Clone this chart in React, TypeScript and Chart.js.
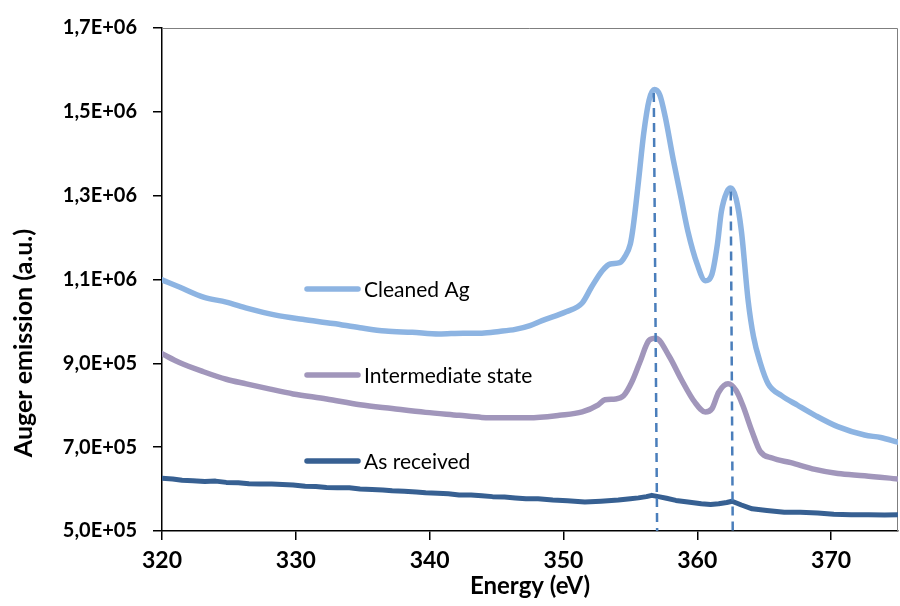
import React, { useEffect, useRef } from "react";
import { Chart, registerables } from "chart.js";

Chart.register(...registerables);

// ---- Data (energy in eV, intensity in a.u.) ----
const cleanedE = [320.0, 321.3, 323.1, 324.8, 326.4, 328.5, 330.5, 332.8, 334.8, 336.7, 338.7, 340.7, 342.5, 343.9, 345.2, 346.4, 347.5, 348.4, 350.2, 351.4, 352.1, 352.9, 353.5, 354.2, 354.6, 355.0, 355.2, 355.6, 356.0, 356.4, 356.8, 357.2, 357.6, 358.2, 358.8, 359.3, 360.0, 360.6, 361.1, 361.5, 361.8, 362.2, 362.5, 362.9, 363.3, 363.8, 364.2, 364.7, 365.3, 366.3, 367.5, 368.8, 370.5, 372.5, 373.7, 375.0];
const cleanedV = [1.099e6, 1.082e6, 1.058e6, 1.046e6, 1.031e6, 1.015e6, 1.005e6, 0.995e6, 0.985e6, 0.977e6, 0.974e6, 0.970e6, 0.972e6, 0.972e6, 0.976e6, 0.981e6, 0.990e6, 1.002e6, 1.023e6, 1.044e6, 1.082e6, 1.121e6, 1.137e6, 1.140e6, 1.155e6, 1.185e6, 1.223e6, 1.332e6, 1.449e6, 1.528e6, 1.553e6, 1.540e6, 1.489e6, 1.387e6, 1.293e6, 1.215e6, 1.136e6, 1.097e6, 1.113e6, 1.183e6, 1.262e6, 1.308e6, 1.318e6, 1.293e6, 1.215e6, 1.050e6, 0.964e6, 0.902e6, 0.851e6, 0.823e6, 0.800e6, 0.776e6, 0.749e6, 0.729e6, 0.723e6, 0.712e6];

const interE = [320.0, 321.3, 323.1, 324.8, 326.3, 328.0, 329.8, 332.3, 334.8, 337.2, 339.7, 342.2, 343.9, 345.5, 347.4, 349.7, 351.4, 352.6, 353.1, 353.9, 354.5, 355.1, 355.7, 356.4, 356.9, 357.9, 358.8, 359.8, 360.6, 361.1, 361.6, 362.3, 362.9, 363.4, 364.1, 364.7, 365.6, 367.0, 368.8, 370.5, 372.5, 375.0];
const interV = [0.923e6, 0.902e6, 0.880e6, 0.862e6, 0.851e6, 0.839e6, 0.827e6, 0.815e6, 0.801e6, 0.792e6, 0.783e6, 0.776e6, 0.771e6, 0.770e6, 0.770e6, 0.776e6, 0.784e6, 0.801e6, 0.813e6, 0.815e6, 0.823e6, 0.855e6, 0.902e6, 0.955e6, 0.960e6, 0.917e6, 0.862e6, 0.808e6, 0.784e6, 0.792e6, 0.831e6, 0.851e6, 0.835e6, 0.800e6, 0.737e6, 0.690e6, 0.674e6, 0.663e6, 0.647e6, 0.637e6, 0.632e6, 0.624e6];

const receivedE = [320.0, 320.8, 321.5, 322.3, 323.2, 324.0, 324.8, 325.7, 326.5, 327.3, 328.2, 329.0, 329.8, 330.7, 331.5, 332.3, 333.1, 334.0, 334.8, 335.7, 336.5, 337.2, 338.1, 339.0, 339.7, 340.6, 341.4, 342.2, 343.1, 343.9, 344.7, 345.6, 346.4, 347.2, 348.1, 349.2, 350.3, 351.6, 352.8, 354.1, 355.0, 355.6, 356.2, 356.6, 357.1, 357.7, 358.4, 359.3, 360.3, 361.0, 361.6, 362.2, 362.6, 363.3, 364.1, 365.2, 366.5, 367.7, 369.0, 370.2, 371.5, 372.8, 374.0, 375.0];
const receivedV = [0.626e6, 0.624e6, 0.621e6, 0.620e6, 0.618e6, 0.619e6, 0.616e6, 0.615e6, 0.613e6, 0.612e6, 0.612e6, 0.611e6, 0.610e6, 0.607e6, 0.606e6, 0.604e6, 0.603e6, 0.603e6, 0.600e6, 0.599e6, 0.598e6, 0.596e6, 0.595e6, 0.593e6, 0.591e6, 0.590e6, 0.589e6, 0.586e6, 0.586e6, 0.584e6, 0.582e6, 0.581e6, 0.579e6, 0.577e6, 0.577e6, 0.574e6, 0.572e6, 0.569e6, 0.571e6, 0.574e6, 0.577e6, 0.579e6, 0.582e6, 0.585e6, 0.582e6, 0.578e6, 0.573e6, 0.569e6, 0.565e6, 0.563e6, 0.565e6, 0.568e6, 0.571e6, 0.562e6, 0.553e6, 0.549e6, 0.545e6, 0.545e6, 0.543e6, 0.540e6, 0.539e6, 0.539e6, 0.538e6, 0.539e6];

// Dashed peak markers: [top energy, bottom energy], [top value, bottom value]
const peak1E = [356.75, 357.0];
const peak1V = [1.545e6, 5.0e5];
const peak2E = [362.5, 362.65];
const peak2V = [1.31e6, 5.0e5];

const seriesNames = ["Cleaned Ag", "Intermediate state", "As received"];
const seriesColors = ["#8DB4E2", "#A196BB", "#376092"];
const dashColor = "#4A7EBB";

const xTicks = [320, 330, 340, 350, 360, 370];
const yTicks = [5e5, 7e5, 9e5, 1.1e6, 1.3e6, 1.5e6, 1.7e6];
const xMin = 320;
const xMax = 375;
const yMin = 5e5;
const yMax = 1.7e6;
const xTitle = "Energy (eV)";
const yTitle = "Auger emission (a.u.)";

const FONT = "Lato, 'Open Sans', sans-serif";

function fmtSci(v: number): string {
  const e = Math.floor(Math.log10(v) + 1e-9);
  const m = v / Math.pow(10, e);
  return m.toFixed(1).replace(".", ",") + "E+" + String(e).padStart(2, "0");
}

function pts(xs: number[], ys: number[]) {
  return xs.map((x, i) => ({ x, y: ys[i] }));
}

const decorPlugin = {
  id: "decor",
  beforeDatasetsDraw(chart: any) {
    const { ctx, chartArea } = chart;
    ctx.save();
    ctx.strokeStyle = "#7f7f7f";
    ctx.lineWidth = 1;
    ctx.beginPath();
    ctx.moveTo(chartArea.left, chartArea.top + 0.5);
    ctx.lineTo(chartArea.right - 0.5, chartArea.top + 0.5);
    ctx.lineTo(chartArea.right - 0.5, chartArea.bottom);
    ctx.stroke();
    ctx.restore();
  },
  afterDraw(chart: any) {
    const { ctx, chartArea } = chart;
    ctx.save();
    // legend
    const legendX = 305;
    const legendYs = [289, 375, 461];
    seriesNames.forEach((name, i) => {
      ctx.strokeStyle = seriesColors[i];
      ctx.lineWidth = 5.5;
      ctx.lineCap = "round";
      ctx.beginPath();
      ctx.moveTo(legendX + 2, legendYs[i]);
      ctx.lineTo(legendX + 53, legendYs[i]);
      ctx.stroke();
      ctx.fillStyle = "#000";
      ctx.font = `21px ${FONT}`;
      ctx.textAlign = "left";
      ctx.textBaseline = "middle";
      ctx.fillText(name, legendX + 59, legendYs[i] + 1);
    });
    // axis titles
    ctx.fillStyle = "#000";
    ctx.font = `bold 24px ${FONT}`;
    ctx.textAlign = "center";
    ctx.textBaseline = "middle";
    ctx.fillText(xTitle, (chartArea.left + chartArea.right) / 2, 586);
    ctx.font = `bold 25px ${FONT}`;
    ctx.translate(24, 343);
    ctx.rotate(-Math.PI / 2);
    ctx.fillText(yTitle, 0, 0);
    ctx.restore();
  },
};

export default function App() {
  const ref = useRef<HTMLCanvasElement | null>(null);
  useEffect(() => {
    if (!ref.current) return;
    const common = { pointRadius: 0, pointHoverRadius: 0, fill: false, borderCapStyle: "round" as const, borderJoinStyle: "round" as const };
    const chart = new Chart(ref.current, {
      type: "line",
      data: {
        datasets: [
          { ...common, label: "peak1", data: pts(peak1E, peak1V), borderColor: dashColor, borderWidth: 2.5, borderDash: [9, 6], borderCapStyle: "butt", order: 0 },
          { ...common, label: "peak2", data: pts(peak2E, peak2V), borderColor: dashColor, borderWidth: 2.5, borderDash: [9, 6], borderCapStyle: "butt", order: 0 },
          { ...common, label: seriesNames[0], data: pts(cleanedE, cleanedV), borderColor: seriesColors[0], borderWidth: 5.5, tension: 0.4, cubicInterpolationMode: "monotone", order: 1 },
          { ...common, label: seriesNames[1], data: pts(interE, interV), borderColor: seriesColors[1], borderWidth: 5.5, tension: 0.4, cubicInterpolationMode: "monotone", order: 2 },
          { ...common, label: seriesNames[2], data: pts(receivedE, receivedV), borderColor: seriesColors[2], borderWidth: 5, tension: 0, order: 3 },
        ] as any,
      },
      options: {
        animation: false,
        responsive: false,
        devicePixelRatio: 1,
        layout: { padding: { top: 20, right: 2, left: 0, bottom: 0 } },
        plugins: { legend: { display: false }, tooltip: { enabled: false }, title: { display: false } },
        scales: {
          x: {
            type: "linear",
            min: xMin,
            max: xMax,
            afterBuildTicks: (s: any) => { s.ticks = xTicks.map((v) => ({ value: v })); },
            afterFit: (s: any) => { s.height = 75; },
            ticks: { color: "#000", font: { family: FONT, size: 23, weight: "bold" }, padding: 7, maxRotation: 0, autoSkip: false, callback: (v: any) => String(v) },
            grid: { drawOnChartArea: false, drawTicks: true, tickLength: 9, color: "#000", lineWidth: 1.5 },
            border: { display: true, color: "#000", width: 1.5 },
          },
          y: {
            type: "linear",
            min: yMin,
            max: yMax,
            afterBuildTicks: (s: any) => { s.ticks = yTicks.map((v) => ({ value: v })); },
            afterFit: (s: any) => { s.width = 162; },
            ticks: { color: "#000", font: { family: FONT, size: 20, weight: "bold" }, padding: 16, autoSkip: false, callback: (v: any) => fmtSci(Number(v)) },
            grid: { drawOnChartArea: false, drawTicks: true, tickLength: 9, color: "#000", lineWidth: 1.5 },
            border: { display: true, color: "#000", width: 1.5 },
          },
        },
      } as any,
      plugins: [decorPlugin],
    });
    return () => chart.destroy();
  }, []);
  return (
    <div style={{ position: "fixed", left: 0, top: 0, width: 900, height: 606, background: "#fff" }}>
      <canvas ref={ref} width={900} height={606} style={{ display: "block", width: 900, height: 606 }} />
    </div>
  );
}
